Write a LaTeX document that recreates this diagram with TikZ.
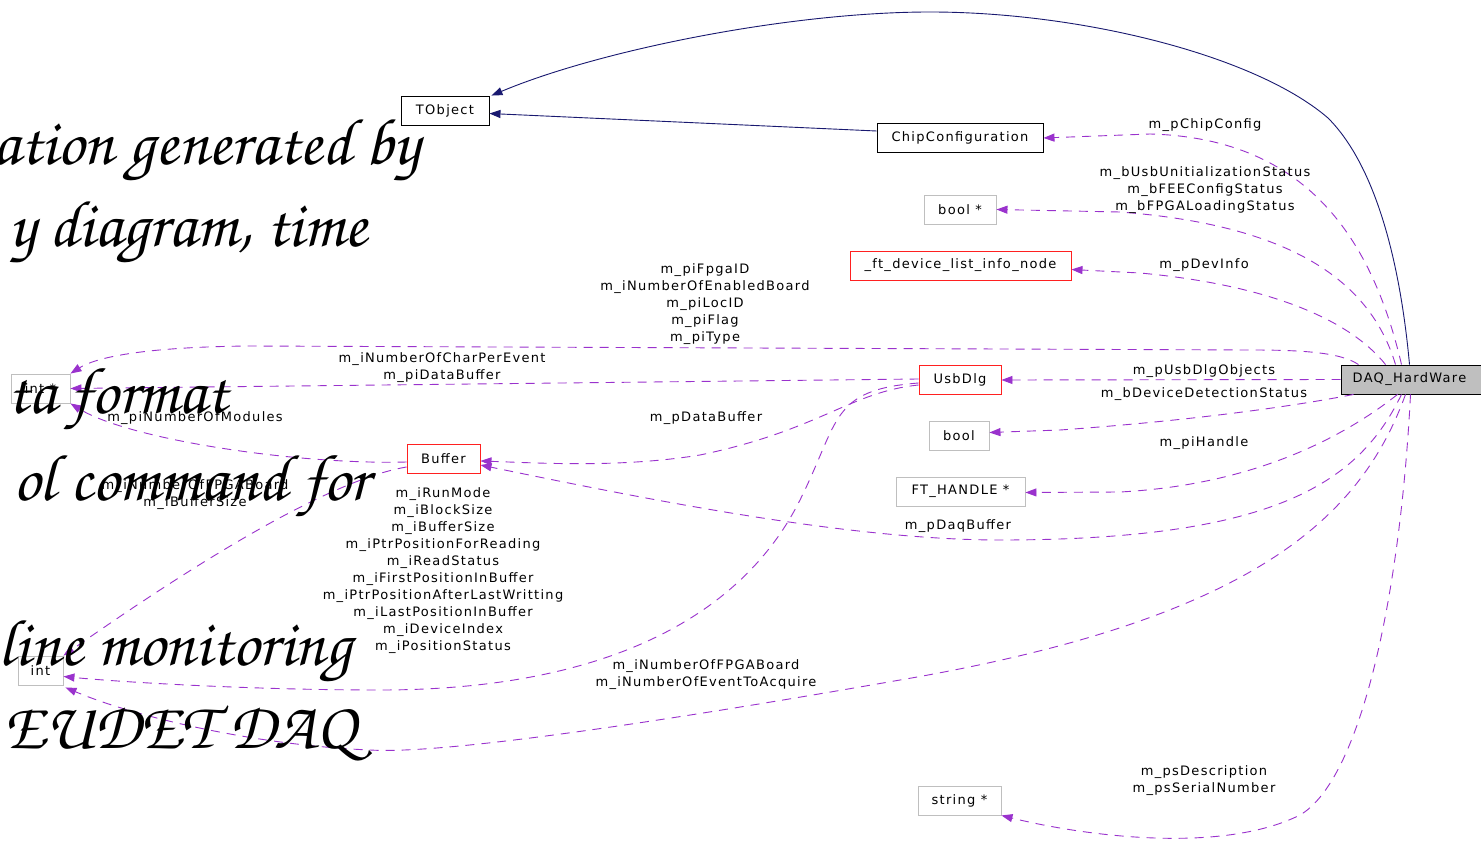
\documentclass[tikz,border=0pt]{standalone}
\usepackage[T1]{fontenc}
\usepackage{fontspec}
\newfontfamily\lbl[LetterSpace=10]{DejaVu Sans}
\usetikzlibrary{arrows.meta}
\definecolor{memb}{HTML}{9A32CD}
\definecolor{inh}{HTML}{191970}
\definecolor{gbord}{HTML}{BFBFBF}
\definecolor{rbord}{HTML}{FF2020}
\newcommand{\chanc}{\usefont{T1}{pzc}{mb}{it}\fontsize{66}{74}\selectfont}
\tikzset{
  lab/.style={font=\lbl\fontsize{13}{17}\selectfont, text=black, align=center, inner sep=0pt},
  cls/.style={rectangle, draw, line width=0.9pt, fill=white, minimum height=29pt, inner sep=0pt, font=\lbl\fontsize{13}{17}\selectfont, text=black},
  graycls/.style={cls, draw=gbord},
  redcls/.style={cls, draw=rbord},
  blackcls/.style={cls, draw=black},
  member/.style={draw=memb, line width=0.9pt, dash pattern=on 9pt off 7pt, -{Triangle[length=11pt,width=8pt]}},
  inherit/.style={draw=inh, line width=0.9pt, -{Triangle[length=11pt,width=8pt]}},
  bigtxt/.style={font=\chanc, text=black, anchor=base east, inner sep=0pt}
}
\begin{document}
\begin{tikzpicture}[x=1pt,y=-1pt]
\useasboundingbox (0,0) rectangle (1481,842);
\clip (0,0) rectangle (1481,842);
\fill[white] (0,0) rectangle (1481,842);

% nodes
\node[blackcls, minimum width=88pt] (tobj) at (445,110.5) {TObject};
\node[blackcls, minimum width=166pt] (chip) at (960,138) {ChipConfiguration};
\node[graycls, minimum width=72pt] (boolp) at (960,209.5) {bool *};
\node[redcls, minimum width=221pt] (ftdev) at (960.5,265.5) {\_ft\_device\_list\_info\_node};
\node[graycls, minimum width=59pt] (intp) at (40.5,388.5) {int *};
\node[redcls, minimum width=82pt] (usb) at (960,380) {UsbDlg};
\node[cls, draw=black, fill=gbord, minimum width=145pt] (daq) at (1413.5,379.5) {\hspace*{-4pt}DAQ\_HardWare\hspace*{4pt}};
\node[graycls, minimum width=60pt] (bool) at (959,435.5) {bool};
\node[redcls, minimum width=73pt] (buf) at (443.5,459) {Buffer};
\node[graycls, minimum width=129pt] (fth) at (960.5,491.5) {FT\_HANDLE *};
\node[graycls, minimum width=45pt] (int) at (40.5,670.5) {int};
\node[graycls, minimum width=83pt] (str) at (959.5,800.5) {string *};

% inheritance
\draw[inherit] ([yshift=7pt]chip.west) -- ([yshift=-3pt]tobj.east);
\draw[inherit] ([xshift=-4pt]daq.north) .. controls (1400,260) and (1375,165) .. (1328,118)
  .. controls (1255,55) and (1080,12) .. (930,12)
  .. controls (790,12) and (600,50) .. ([xshift=2pt]tobj.north east);

% members
\draw[member] ([xshift=-12pt]daq.north) .. controls (1370,230) and (1300,138) .. (1150,134) -- (chip.east);
\draw[member] ([xshift=-18pt]daq.north) .. controls (1370,280) and (1290,225) .. (1120,212) -- (boolp.east);
\draw[member] ([xshift=-28pt]daq.north) .. controls (1350,320) and (1270,285) .. (1140,273) -- ([yshift=-4pt]ftdev.east);
\draw[member] ([xshift=-55pt]daq.north) .. controls (1340,352) and (1300,350) .. (1250,350) -- (250,346) .. controls (140,347) and (95,358) .. (intp.north east);
\draw[member] ([yshift=1pt]usb.west) -- (intp.east);
\draw[member] (daq.west) -- (usb.east);
\draw[member] ([xshift=-60pt]daq.south) .. controls (1300,405) and (1200,420) .. (1060,430) -- ([yshift=3pt]bool.east);
\draw[member] ([xshift=-16pt]daq.south) .. controls (1340,440) and (1250,485) .. (1120,492) -- ([yshift=-1pt]fth.east);
\draw[member] ([xshift=-12pt]daq.south) .. controls (1360,480) and (1280,540) .. (1000,540) .. controls (850,540) and (650,500) .. ([yshift=-6pt]buf.east);
\draw[member] ([yshift=-5pt]usb.west) .. controls (850,392) and (820,430) .. (700,455) .. controls (620,468) and (540,463) .. ([yshift=-2pt]buf.east);
\draw[member] ([yshift=-3pt]usb.west) .. controls (830,390) and (840,420) .. (800,500) .. controls (740,620) and (600,690) .. (380,690) .. controls (250,690) and (120,682) .. ([yshift=-6pt]int.east);
\draw[member] ([yshift=-3pt]buf.west) .. controls (300,465) and (130,440) .. (intp.south east);
\draw[member] ([yshift=-8pt]buf.west) .. controls (330,480) and (200,560) .. (int.north east);
\draw[member] ([xshift=-8pt]daq.south) .. controls (1360,520) and (1250,620) .. (900,680) .. controls (700,715) and (450,755) .. (370,750) .. controls (250,745) and (130,715) .. ([xshift=2pt,yshift=-2pt]int.south east);
\draw[member] ([xshift=-3pt]daq.south) .. controls (1400,600) and (1360,780) .. (1300,815) .. controls (1220,855) and (1080,835) .. (str.south east);

% labels
\node[lab] (l1) at (1205,125) {m\_pChipConfig};
\node[lab] (l2) at (1205,190) {m\_bUsbUnitializationStatus\\m\_bFEEConfigStatus\\m\_bFPGALoadingStatus};
\node[lab] (l3) at (1204,265) {m\_pDevInfo};
\node[lab] (l4) at (705,304) {m\_piFpgaID\\m\_iNumberOfEnabledBoard\\m\_piLocID\\m\_piFlag\\m\_piType};
\node[lab] (l5) at (442,367.5) {m\_iNumberOfCharPerEvent\\m\_piDataBuffer};
\node[lab] (l6) at (1204,371) {m\_pUsbDlgObjects};
\node[lab] (l7) at (1204,394) {m\_bDeviceDetectionStatus};
\node[lab] (l8) at (195,418) {m\_piNumberOfModules};
\node[lab] (l9) at (706,418) {m\_pDataBuffer};
\node[lab] (l10) at (1204,443) {m\_piHandle};
\node[lab] (l11) at (195,495) {m\_iNumberOfFPGABoard\\m\_iBufferSize};
\node[lab] (l12) at (443,570.5) {m\_iRunMode\\m\_iBlockSize\\m\_iBufferSize\\m\_iPtrPositionForReading\\m\_iReadStatus\\m\_iFirstPositionInBuffer\\m\_iPtrPositionAfterLastWritting\\m\_iLastPositionInBuffer\\m\_iDeviceIndex\\m\_iPositionStatus};
\node[lab] (l13) at (958,526) {m\_pDaqBuffer};
\node[lab] (l14) at (706,674.5) {m\_iNumberOfFPGABoard\\m\_iNumberOfEventToAcquire};
\node[lab] (l15) at (1204,780.5) {m\_psDescription\\m\_psSerialNumber};

% overlaid large text
\node[bigtxt] (t1) at (420,165) {ation generated by};
\node[bigtxt] (t2) at (367,247) {y diagram, time};
\node[bigtxt] (t3) at (228,413) {ta format};
\node[bigtxt] (t4) at (370,500) {ol command for};
\node[bigtxt] (t5) at (352,665) {line monitoring};
\node[bigtxt] (t6) at (356,748) {EUDET DAQ};
\end{tikzpicture}
\end{document}
